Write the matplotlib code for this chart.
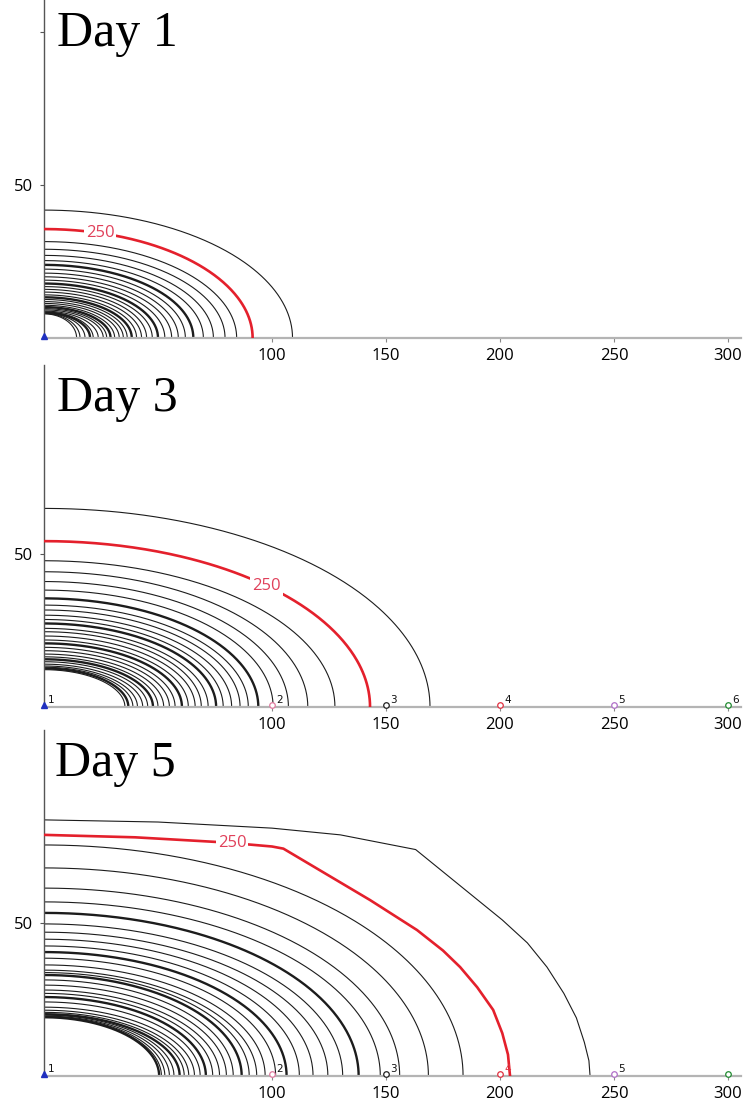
import numpy as np
import matplotlib.pyplot as plt

# contour intercepts, outermost (240) to innermost, step 10
day1_xint = [109, 91.5, 84.5, 79.4, 74.3, 69.9, 65.5, 62, 58.9, 56, 53, 50, 47.5, 45, 42.8,
             40.6, 38.5, 36.5, 34.8, 33, 31, 29.2, 27.5, 26, 23.8, 21.6, 20.2, 18, 15.8, 14.3]
day1_yint = [41.8, 35.6, 31.5, 29.0, 27.0, 25.3, 23.9, 22.5, 21.2, 20.0, 18.9, 17.8, 16.8, 15.9, 15.0,
             14.1, 13.3, 12.6, 11.9, 11.3, 10.7, 10.1, 9.6, 9.2, 8.8, 8.5, 8.3, 8.1, 8.0, 7.9]

day3_xint = [169.3, 143, 127.6, 115.7, 107.2, 100.5, 94, 89.6, 86, 82.3, 78.6, 75.5, 72, 69,
             66.3, 63.3, 60.5, 57.5, 55, 52.5, 50, 47.8, 45.5, 43.3, 41, 39, 37, 35.5]
day3_yint = [64.9, 54.2, 47.8, 44.2, 41, 38.2, 35.5, 33.3, 31.7, 30, 28.6, 27.3, 25.7, 24.6,
             23.2, 21.9, 20.8, 19.5, 18.4, 17.3, 16.4, 15.6, 14.8, 14, 13.4, 13, 12.6, 12.2]

# day 5: the two outer contours (240, 250) are kinked, so kept as points
day5_outer_x = [0, 50, 100, 130, 163, 201, 212, 220.6, 228, 233.5, 237, 239, 239.5]
day5_outer_y = [83.7, 83.0, 81.0, 78.8, 74.0, 51.0, 43.5, 35.6, 27.0, 19.0, 11.0, 5.0, 0]
day5_red_x = [0, 40, 80, 100, 105, 143, 163.6, 175, 182.5, 190, 197, 201, 203.5, 204.4]
day5_red_y = [78.8, 78.0, 76.3, 75.0, 74.3, 57.5, 47.7, 41.0, 35.6, 29.0, 21.6, 14.0, 7.0, 0]
# from 260 inward
day5_xint = [183.8, 168.6, 156, 147.5, 138, 131, 124.5, 118, 112, 106.4, 101.6, 97, 93.3, 90, 86.7,
             83, 80, 77, 74, 71, 68.5, 66, 63.5, 61.5, 59.5, 57, 55, 53, 51.5, 50.5]
day5_yint = [75.5, 68, 61.4, 56.9, 53.3, 49.7, 47, 44.7, 42.5, 40.5, 38.5, 36.3, 34.6, 33.8, 33,
             31.4, 29.7, 28.1, 27, 25.8, 24.2, 22.5, 21.5, 20.8, 20.2, 19.9, 19.6, 19.4, 19.3, 19.2]

titles = ['Day 1', 'Day 3', 'Day 5']
label_x = [24.6, 97.7, 82.5]   # where the "250" label sits along the red line
xticks = [100, 150, 200, 250, 300]

well_x = [0, 100, 150, 200, 250, 300]
well_names = ['1', '2', '3', '4', '5', '6']
well_colors = ['#2030c0', '#e07aa0', '#202020', '#e03040', '#b070c8', '#208a30']
wells_shown = [[0], [0, 1, 2, 3, 4, 5], [0, 1, 2, 3, 4, 5]]
wells_named = [[], [0, 1, 2, 3, 4, 5], [0, 1, 2, 3, 4]]

RED = '#e4202c'
BLACK = '#1c1c1c'

fig = plt.figure(figsize=(7.51, 11.03), dpi=100)
W, H = 751, 1103
px = 2.28   # pixels per unit in x
py = 3.06   # pixels per unit in y
panels = [(338, 0), (707, 365), (1076, 730)]  # (axis row, top row) in pixels


def ellipse(a, b):
    t = np.linspace(0, np.pi / 2, 200)
    return a * np.cos(t), b * np.sin(t)


axes = []
for i, (bot, top) in enumerate(panels):
    ax = fig.add_axes([44 / W, 1 - bot / H, (741 - 44) / W, (bot - top) / H])
    ax.set_xlim(0, (741 - 44) / px)
    ax.set_ylim(0, (bot - top) / py)
    for s in ['top', 'right']:
        ax.spines[s].set_visible(False)
    ax.spines['left'].set_color('#555555')
    ax.spines['left'].set_linewidth(1.0)
    ax.spines['bottom'].set_color('#b4b4b4')
    ax.spines['bottom'].set_linewidth(1.6)
    ax.set_xticks(xticks)
    ax.set_xticklabels([str(t) for t in xticks], family='Open Sans', fontsize=12)
    if i == 0:
        ax.set_yticks([50, 100])
        ax.set_yticklabels(['50', ''], family='Open Sans', fontsize=12)
    else:
        ax.set_yticks([50])
        ax.set_yticklabels(['50'], family='Open Sans', fontsize=12)
    ax.tick_params(axis='x', length=3, color='#888888', pad=4)
    ax.tick_params(axis='y', length=3, color='#555555', pad=5)
    axes.append(ax)

sets = [(day1_xint, day1_yint, 240), (day3_xint, day3_yint, 240), (day5_xint, day5_yint, 260)]
for i, ax in enumerate(axes):
    xs, ys, lev0 = sets[i]
    for k, (a, b) in enumerate(zip(xs, ys)):
        lev = lev0 + 10 * k
        x, y = ellipse(a, b)
        if lev == 250:
            ax.plot(x, y, color=RED, lw=1.9, zorder=3)
        elif lev % 50 == 0:
            ax.plot(x, y, color=BLACK, lw=1.7)
        else:
            ax.plot(x, y, color=BLACK, lw=0.8)
    if i == 2:
        ax.plot(day5_outer_x, day5_outer_y, color=BLACK, lw=0.8)
        ax.plot(day5_red_x, day5_red_y, color=RED, lw=1.9, zorder=3)

    # inline "250" label on the red line
    lx = label_x[i]
    if i == 2:
        ly = np.interp(lx, day5_red_x, day5_red_y)
    else:
        ly = ys[1] * np.sqrt(1 - (lx / xs[1]) ** 2)
    ax.text(lx, ly, '250', color='#e0405a', fontsize=12, family='Open Sans',
            ha='center', va='center', zorder=5,
            bbox=dict(boxstyle='square,pad=0.12', fc='white', ec='none'))

    # observation wells on the axis
    for j in wells_shown[i]:
        if j == 0:
            ax.plot(well_x[j], 0.8, marker='^', ms=5, color=well_colors[j],
                    clip_on=False, zorder=6)
        else:
            ax.plot(well_x[j], 0.5, marker='o', ms=4, mfc='white',
                    mec=well_colors[j], mew=0.9, clip_on=False, zorder=6)
    for j in wells_named[i]:
        c = '#e03040' if (i == 2 and j == 3) else '#111111'
        ax.annotate(well_names[j], (well_x[j], 0), xytext=(3, 3),
                    textcoords='offset points', fontsize=7.5, color=c,
                    family='DejaVu Sans', zorder=7)

    fig.text(57 / W if i < 2 else 55 / W, 1 - (panels[i][1] + 46) / H, titles[i],
             family='Liberation Serif', fontsize=36, va='baseline', ha='left')

fig.savefig('out.png', dpi=100)
